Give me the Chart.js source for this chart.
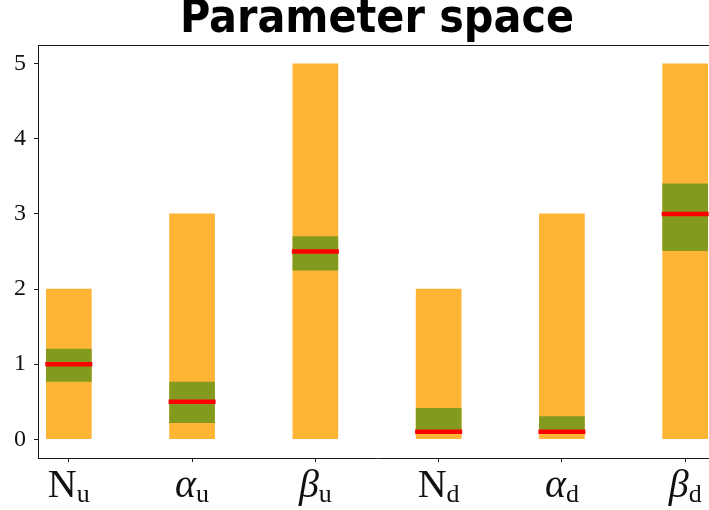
<!DOCTYPE html>
<html>
<head>
<meta charset="utf-8">
<script src="https://cdn.jsdelivr.net/npm/chart.js@4"></script>
<style>
  html, body { margin: 0; padding: 0; background: #fff; overflow: hidden; }
  #c { display: block; }
</style>
</head>
<body>
<canvas id="c" width="720" height="510"></canvas>
<script>
// Parameter names: base symbol, subscript, and whether the symbol is Greek (italic)
const paramSymbols = ['N', 'α', 'β', 'N', 'α', 'β'];
const paramSubscripts = ['u', 'u', 'u', 'd', 'd', 'd'];
const paramGreek = [false, true, true, false, true, true];

// Allowed range of each parameter
const rangeLow = [0, 0, 0, 0, 0, 0];
const rangeHigh = [2, 3, 5, 2, 3, 5];

// Preferred region inside the range
const regionLow = [0.77, 0.22, 2.25, 0.08, 0.08, 2.51];
const regionHigh = [1.2, 0.76, 2.7, 0.41, 0.3, 3.4];

// Best-fit value
const bestValue = [1.0, 0.5, 2.5, 0.1, 0.1, 3.0];

const yTicks = [0, 1, 2, 3, 4, 5];

const idx = paramSymbols.map((_, i) => i);
const axisColor = '#1a1a1a';

// Draws the symbol + subscript labels under each x tick
const subscriptLabels = {
  id: 'subscriptLabels',
  afterDraw(chart) {
    const ctx = chart.ctx;
    const xs = chart.scales.x;
    ctx.save();
    ctx.fillStyle = '#111';
    ctx.textBaseline = 'alphabetic';
    ctx.textAlign = 'left';
    idx.forEach(i => {
      const x = xs.getPixelForValue(i);
      const mainFont = (paramGreek[i] ? 'italic ' : '') + '40px "Liberation Serif", serif';
      const subFont = '26px "Liberation Serif", serif';
      ctx.font = mainFont;
      const wMain = ctx.measureText(paramSymbols[i]).width;
      ctx.font = subFont;
      const wSub = ctx.measureText(paramSubscripts[i]).width;
      const start = x - (wMain + wSub) / 2;
      ctx.font = mainFont;
      ctx.fillText(paramSymbols[i], start, 497);
      ctx.font = subFont;
      ctx.fillText(paramSubscripts[i], start + wMain, 502);
    });
    ctx.restore();
  }
};

// Top and right frame lines
const frame = {
  id: 'frame',
  afterDatasetsDraw(chart) {
    const { ctx, chartArea: a } = chart;
    ctx.save();
    ctx.strokeStyle = axisColor;
    ctx.lineWidth = 1;
    ctx.beginPath();
    ctx.moveTo(a.left, a.top + 0.5);
    ctx.lineTo(a.right, a.top + 0.5);
    ctx.lineTo(a.right, a.bottom);
    ctx.stroke();
    ctx.restore();
  }
};

new Chart(document.getElementById('c'), {
  type: 'bar',
  data: {
    datasets: [
      {
        type: 'scatter',
        label: 'best',
        data: idx.map(i => ({ x: i, y: bestValue[i] })),
        pointStyle: 'line',
        radius: 23.5,
        hoverRadius: 23.5,
        borderWidth: 4.5,
        borderColor: '#ff0000',
        backgroundColor: '#ff0000',
        order: 1
      },
      {
        label: 'region',
        data: idx.map(i => ({ x: i, y: [regionLow[i], regionHigh[i]] })),
        backgroundColor: 'rgb(130,155,30)',
        borderWidth: 0,
        barThickness: 45,
        grouped: false,
        order: 2
      },
      {
        label: 'range',
        data: idx.map(i => ({ x: i, y: [rangeLow[i], rangeHigh[i]] })),
        backgroundColor: 'rgb(254,180,52)',
        borderWidth: 0,
        barThickness: 45,
        grouped: false,
        order: 3
      }
    ]
  },
  options: {
    responsive: false,
    animation: false,
    layout: { autoPadding: false, padding: { left: 0, right: 4, top: 0, bottom: 0 } },
    plugins: {
      legend: { display: false },
      tooltip: { enabled: false },
      title: {
        display: true,
        text: 'Parameter space',
        fullSize: false,
        color: '#000',
        font: { family: '"DejaVu Sans Condensed", "DejaVu Sans", sans-serif', size: 46, weight: 'bold', lineHeight: '40px' },
        padding: { top: 0, bottom: 5 }
      }
    },
    scales: {
      x: {
        type: 'linear',
        offset: false,
        min: -0.25,
        max: 5.25,
        afterBuildTicks(scale) { scale.ticks = idx.map(v => ({ value: v })); },
        afterFit(scale) { scale.height = 52; },
        ticks: { display: false },
        grid: { offset: false, drawOnChartArea: false, drawTicks: true, tickLength: 4, color: axisColor },
        border: { display: true, color: axisColor, width: 1 }
      },
      y: {
        min: -0.25,
        max: 5.25,
        afterBuildTicks(scale) { scale.ticks = yTicks.map(v => ({ value: v })); },
        afterFit(scale) { scale.width = 38; },
        ticks: {
          color: '#111',
          padding: 8,
          font: { family: '"Liberation Serif", serif', size: 24 }
        },
        grid: { drawOnChartArea: false, drawTicks: true, tickLength: 4, color: axisColor },
        border: { display: true, color: axisColor, width: 1 }
      }
    }
  },
  plugins: [subscriptLabels, frame]
});
</script>
</body>
</html>
